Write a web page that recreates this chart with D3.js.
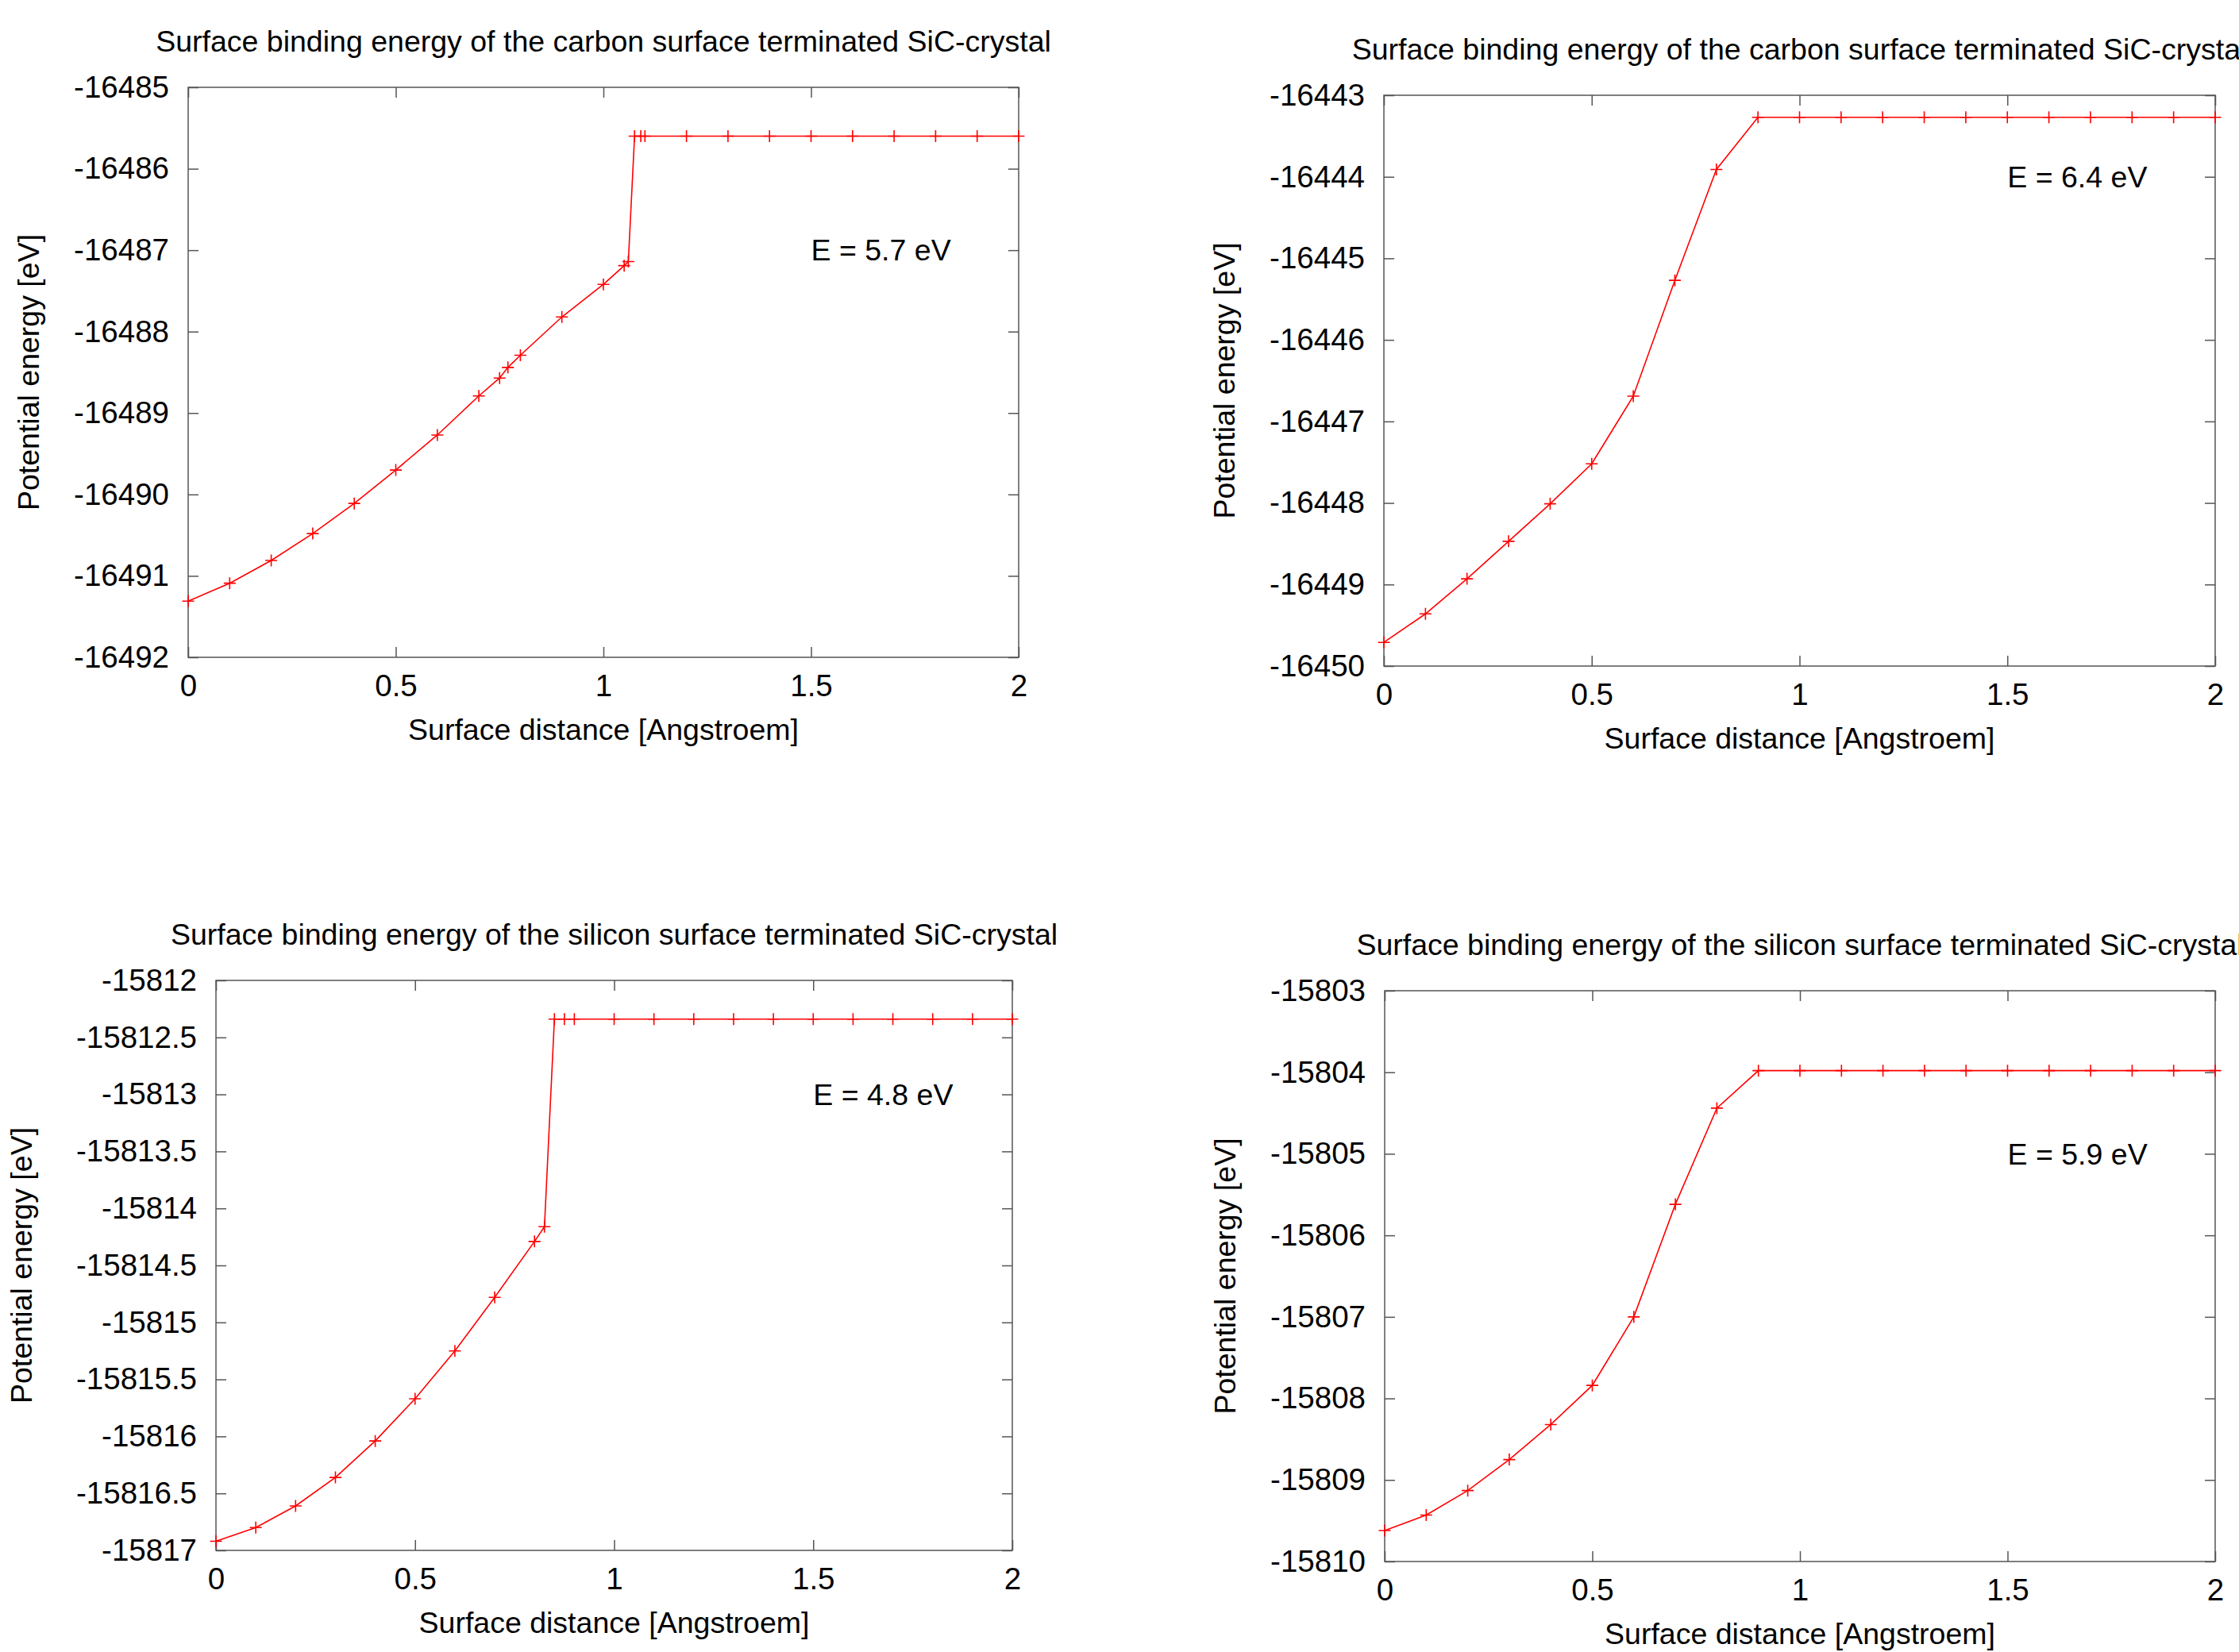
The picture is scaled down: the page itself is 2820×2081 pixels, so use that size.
<!DOCTYPE html>
<html>
<head>
<meta charset="utf-8">
<script src="https://cdn.jsdelivr.net/npm/d3@7"></script>
<style>
  body { margin: 0; background: #fff; }
  svg { display: block; }
</style>
</head>
<body>
<div id="node"></div>
<script>
// ---- data ----
const titleCarbon = "Surface binding energy of the carbon surface terminated SiC-crystal";
const titleSilicon = "Surface binding energy of the silicon surface terminated SiC-crystal";
const xLabel = "Surface distance [Angstroem]";
const yLabel = "Potential energy [eV]";

const xTicks = [0, 0.5, 1, 1.5, 2];
const xTickLabels = ["0", "0.5", "1", "1.5", "2"];

// top left: carbon terminated, E = 5.7 eV
const p1Distance = [0, 0.1, 0.2, 0.3, 0.4, 0.5, 0.6, 0.7, 0.75, 0.77, 0.8, 0.9, 1.0, 1.05, 1.06,
  1.075, 1.09, 1.1, 1.2, 1.3, 1.4, 1.5, 1.6, 1.7, 1.8, 1.9, 2.0];
const p1Energy = [-16491.31, -16491.09, -16490.81, -16490.48, -16490.11, -16489.70, -16489.27,
  -16488.79, -16488.57, -16488.44, -16488.29, -16487.82, -16487.42, -16487.19, -16487.14,
  -16485.60, -16485.60, -16485.60, -16485.60, -16485.60, -16485.60, -16485.60, -16485.60,
  -16485.60, -16485.60, -16485.60, -16485.60];
const p1YTicks = [-16492, -16491, -16490, -16489, -16488, -16487, -16486, -16485];
const p1Note = "E = 5.7 eV";

// top right: carbon terminated, E = 6.4 eV
const p2Distance = [0, 0.1, 0.2, 0.3, 0.4, 0.5, 0.6, 0.7, 0.8, 0.9, 1.0, 1.1, 1.2, 1.3, 1.4,
  1.5, 1.6, 1.7, 1.8, 1.9, 2.0];
const p2Energy = [-16449.71, -16449.36, -16448.93, -16448.47, -16448.01, -16447.52, -16446.69,
  -16445.27, -16443.91, -16443.27, -16443.27, -16443.27, -16443.27, -16443.27, -16443.27,
  -16443.27, -16443.27, -16443.27, -16443.27, -16443.27, -16443.27];
const p2YTicks = [-16450, -16449, -16448, -16447, -16446, -16445, -16444, -16443];
const p2Note = "E = 6.4 eV";

// bottom left: silicon terminated, E = 4.8 eV
const p3Distance = [0, 0.1, 0.2, 0.3, 0.4, 0.5, 0.6, 0.7, 0.8, 0.825, 0.85, 0.875, 0.9, 1.0,
  1.1, 1.2, 1.3, 1.4, 1.5, 1.6, 1.7, 1.8, 1.9, 2.0];
const p3Energy = [-15816.92, -15816.80, -15816.61, -15816.36, -15816.04, -15815.67, -15815.25,
  -15814.78, -15814.29, -15814.16, -15812.34, -15812.34, -15812.34, -15812.34, -15812.34,
  -15812.34, -15812.34, -15812.34, -15812.34, -15812.34, -15812.34, -15812.34, -15812.34,
  -15812.34];
const p3YTicks = [-15817, -15816.5, -15816, -15815.5, -15815, -15814.5, -15814, -15813.5,
  -15813, -15812.5, -15812];
const p3Note = "E = 4.8 eV";

// bottom right: silicon terminated, E = 5.9 eV
const p4Distance = [0, 0.1, 0.2, 0.3, 0.4, 0.5, 0.6, 0.7, 0.8, 0.9, 1.0, 1.1, 1.2, 1.3, 1.4,
  1.5, 1.6, 1.7, 1.8, 1.9, 2.0];
const p4Energy = [-15809.62, -15809.43, -15809.13, -15808.75, -15808.32, -15807.84, -15807.00,
  -15805.62, -15804.44, -15803.98, -15803.98, -15803.98, -15803.98, -15803.98, -15803.98,
  -15803.98, -15803.98, -15803.98, -15803.98, -15803.98, -15803.98];
const p4YTicks = [-15810, -15809, -15808, -15807, -15806, -15805, -15804, -15803];
const p4Note = "E = 5.9 eV";

// ---- layout (pixel boxes of each plot frame) ----
const panels = [
  { title: titleCarbon, xs: p1Distance, ys: p1Energy, yTicks: p1YTicks, note: p1Note, noteAt: [1.5, -16487],
    box: { left: 237, top: 110, width: 1046, height: 718 }, yLabelOffset: 188 },
  { title: titleCarbon, xs: p2Distance, ys: p2Energy, yTicks: p2YTicks, note: p2Note, noteAt: [1.5, -16444],
    box: { left: 1743, top: 120, width: 1047, height: 719 }, yLabelOffset: 188 },
  { title: titleSilicon, xs: p3Distance, ys: p3Energy, yTicks: p3YTicks, note: p3Note, noteAt: [1.5, -15813],
    box: { left: 272, top: 1235, width: 1003, height: 718 }, yLabelOffset: 232 },
  { title: titleSilicon, xs: p4Distance, ys: p4Energy, yTicks: p4YTicks, note: p4Note, noteAt: [1.5, -15805],
    box: { left: 1744, top: 1248, width: 1046, height: 719 }, yLabelOffset: 188 }
];

const FONT = "'Liberation Sans', Arial, sans-serif";
const FS = 37.5;      // titles, labels, notes
const FS_TICK = 38.5; // tick numbers look a touch wider in the original
const TICK = 13;
const frameColor = "#555";
const red = "#ff0000";

const svg = d3.select("#node")
  .append("svg")
  .attr("width", 2820)
  .attr("height", 2081)
  .style("font-family", FONT);

svg.append("rect").attr("width", 2820).attr("height", 2081).attr("fill", "#fff");

panels.forEach(p => drawPanel(p));

function styleAxis(g) {
  g.attr("font-family", FONT).attr("font-size", FS_TICK);
  g.select(".domain").remove();
  g.selectAll(".tick line").attr("stroke", frameColor).attr("stroke-width", 1.5);
  g.selectAll(".tick text").attr("fill", "#000");
}

function drawPanel(p) {
  const { left, top, width, height } = p.box;
  const g = svg.append("g").attr("transform", "translate(" + left + "," + top + ")");

  const x = d3.scaleLinear().domain([0, 2]).range([0, width]);
  const y = d3.scaleLinear().domain([p.yTicks[0], p.yTicks[p.yTicks.length - 1]]).range([height, 0]);

  // ticks point inwards on all four sides, labels only bottom and left
  g.append("g")
    .attr("transform", "translate(0," + height + ")")
    .call(d3.axisBottom(x).tickValues(xTicks).tickFormat((d, i) => xTickLabels[i])
      .tickSize(-TICK).tickPadding(22))
    .call(styleAxis);
  g.append("g")
    .call(d3.axisTop(x).tickValues(xTicks).tickFormat("").tickSize(-TICK))
    .call(styleAxis);
  g.append("g")
    .call(d3.axisLeft(y).tickValues(p.yTicks).tickFormat(d => String(d))
      .tickSize(-TICK).tickPadding(24))
    .call(styleAxis);
  g.append("g")
    .attr("transform", "translate(" + width + ",0)")
    .call(d3.axisRight(y).tickValues(p.yTicks).tickFormat("").tickSize(-TICK))
    .call(styleAxis);

  g.append("rect")
    .attr("width", width)
    .attr("height", height)
    .attr("fill", "none")
    .attr("stroke", frameColor)
    .attr("stroke-width", 1.5);

  const pts = p.xs.map((d, i) => [d, p.ys[i]]);

  g.append("path")
    .datum(pts)
    .attr("fill", "none")
    .attr("stroke", red)
    .attr("stroke-width", 1.6)
    .attr("d", d3.line().x(d => x(d[0])).y(d => y(d[1])));

  g.append("g")
    .selectAll("path")
    .data(pts)
    .enter()
    .append("path")
    .attr("transform", d => "translate(" + x(d[0]) + "," + y(d[1]) + ")")
    .attr("d", "M-7.5,0H7.5M0,-7.5V7.5")
    .attr("stroke", red)
    .attr("stroke-width", 1.6);

  // energy note
  g.append("text")
    .attr("x", x(p.noteAt[0]))
    .attr("y", y(p.noteAt[1]))
    .attr("dy", "0.35em")
    .attr("font-size", FS)
    .text(p.note);

  // title (the right-hand ones run off the page edge, as in the original)
  g.append("text")
    .attr("x", width / 2)
    .attr("y", -45)
    .attr("text-anchor", "middle")
    .attr("font-size", FS)
    .text(p.title);

  // axis labels
  g.append("text")
    .attr("x", width / 2)
    .attr("y", height + 104)
    .attr("text-anchor", "middle")
    .attr("font-size", FS)
    .text(xLabel);

  g.append("text")
    .attr("transform", "rotate(-90)")
    .attr("x", -height / 2)
    .attr("y", -p.yLabelOffset)
    .attr("text-anchor", "middle")
    .attr("font-size", FS)
    .text(yLabel);
}
</script>
</body>
</html>
